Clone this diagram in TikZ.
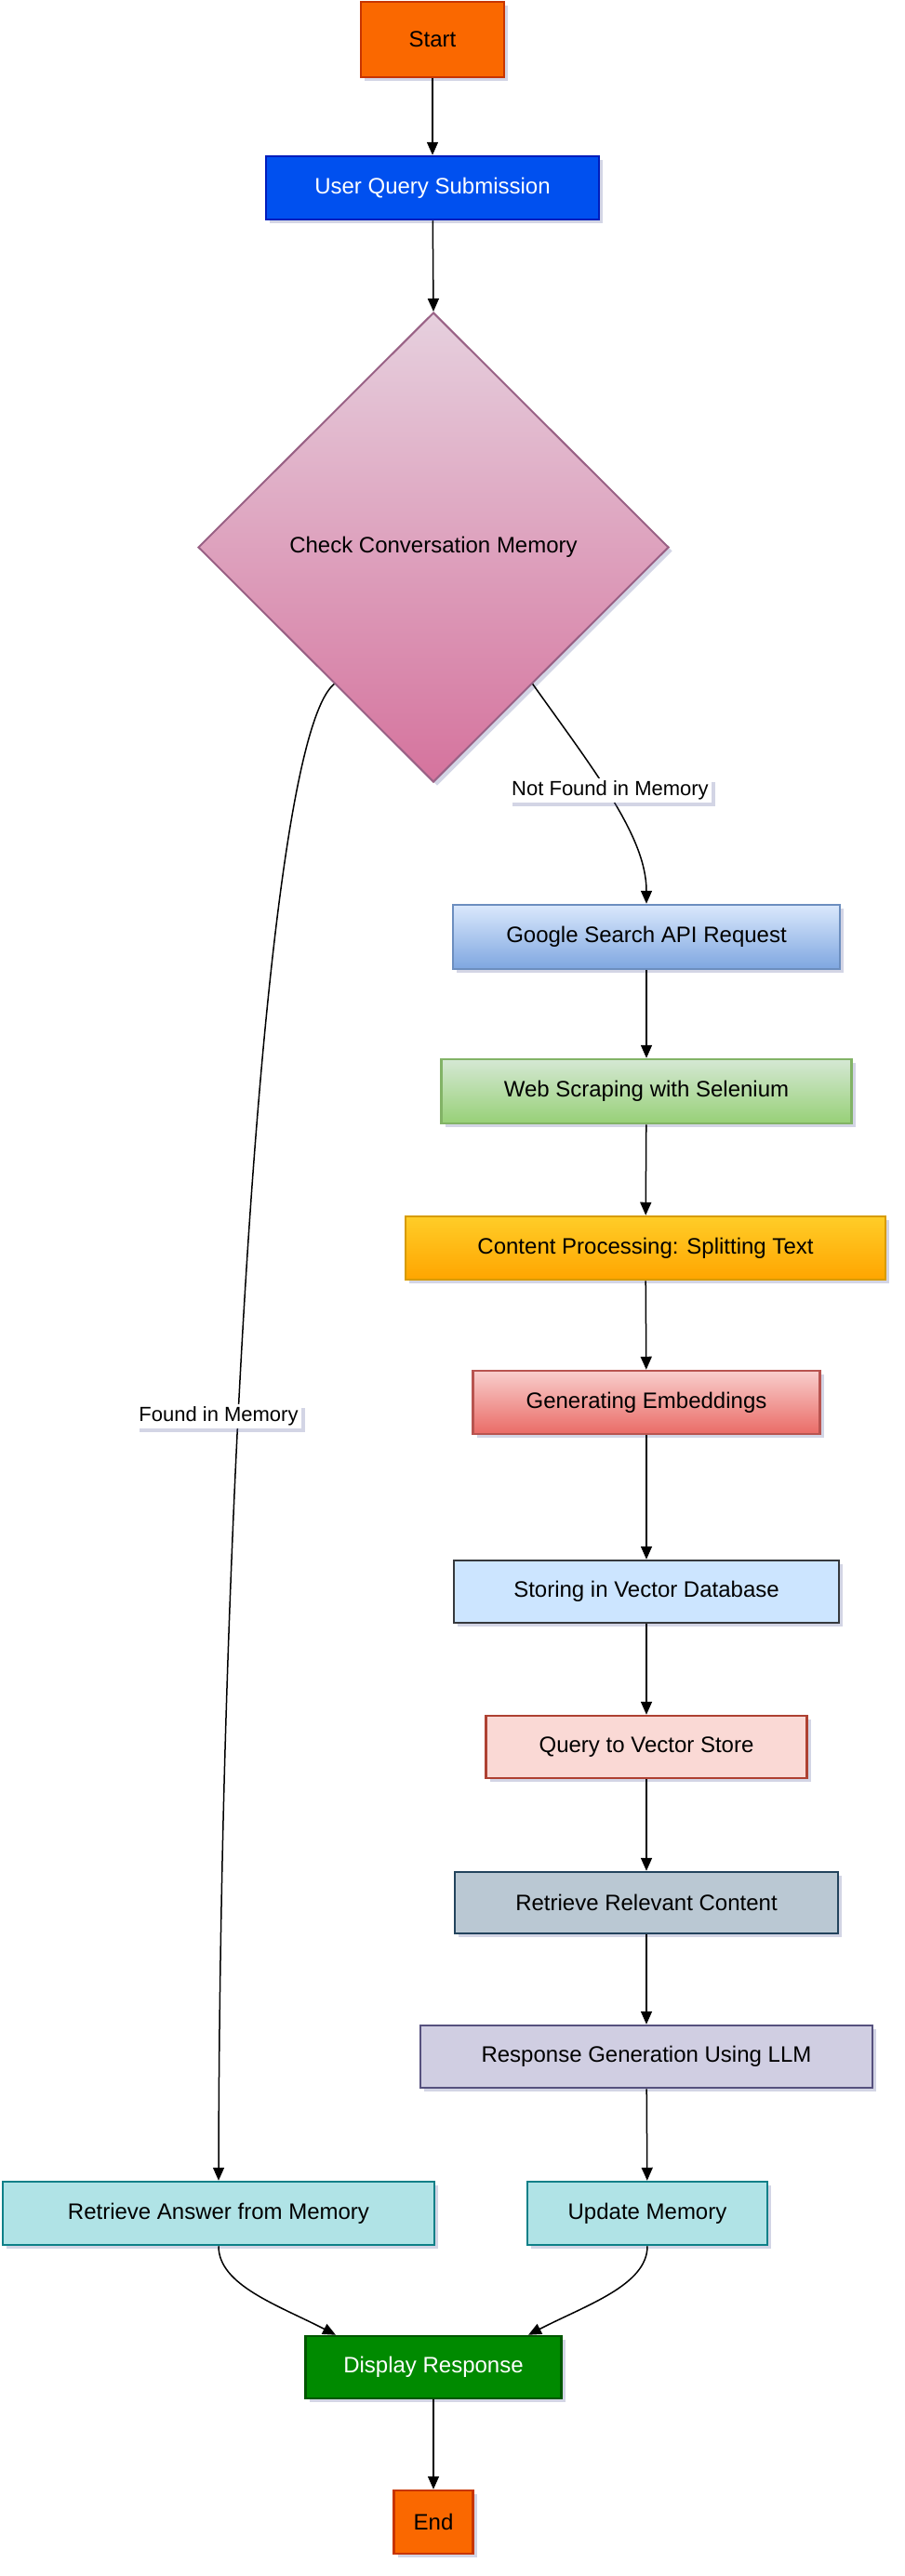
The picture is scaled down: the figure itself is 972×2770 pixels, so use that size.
\documentclass[tikz,border=0pt]{standalone}
\usepackage{fontspec}
\setmainfont{Liberation Sans}
\usetikzlibrary{shapes.geometric,arrows.meta,shadows,calc}
\definecolor{shadowc}{RGB}{110,115,170}
\definecolor{startfill}{HTML}{FA6800}
\definecolor{startdraw}{HTML}{C73500}
\definecolor{userfill}{HTML}{0050EF}
\definecolor{userdraw}{HTML}{001DBC}
\definecolor{checktop}{HTML}{E6D0DE}
\definecolor{checkbot}{HTML}{D5739D}
\definecolor{checkdraw}{HTML}{996185}
\definecolor{gtop}{HTML}{DAE8FC}
\definecolor{gbot}{HTML}{7EA6E0}
\definecolor{gdraw}{HTML}{6C8EBF}
\definecolor{wtop}{HTML}{D5E8D4}
\definecolor{wbot}{HTML}{97D077}
\definecolor{wdraw}{HTML}{82B366}
\definecolor{ctop}{HTML}{FFCD28}
\definecolor{cbot}{HTML}{FFA500}
\definecolor{cdraw}{HTML}{D79B00}
\definecolor{etop}{HTML}{F8CECC}
\definecolor{ebot}{HTML}{EA6B66}
\definecolor{edraw}{HTML}{B85450}
\definecolor{sfill}{HTML}{CCE5FF}
\definecolor{sdraw}{HTML}{36393D}
\definecolor{qfill}{HTML}{FAD9D5}
\definecolor{qdraw}{HTML}{AE4132}
\definecolor{rfill}{HTML}{BAC8D3}
\definecolor{rdraw}{HTML}{23445D}
\definecolor{lfill}{HTML}{D0CEE2}
\definecolor{ldraw}{HTML}{56517E}
\definecolor{mfill}{HTML}{B0E3E6}
\definecolor{mdraw}{HTML}{0E8088}
\definecolor{dfill}{HTML}{008A00}
\definecolor{ddraw}{HTML}{005700}
\tikzset{
  shad/.style={drop shadow={shadow xshift=4pt, shadow yshift=-4pt, opacity=0.3, fill=shadowc}},
  base/.style={rectangle, draw, line width=2.5pt, inner sep=0pt, text=black,
    font=\fontsize{24}{28}\selectfont, shad},
  wh/.style 2 args={minimum width=#1, minimum height=#2},
  conn/.style={line width=1.5pt, -{Triangle[length=14pt,width=12pt]}},
  lbl/.style={fill=white, inner sep=3pt, font=\fontsize{22}{26}\selectfont, shad}
}
\begin{document}
\begin{tikzpicture}[x=1pt,y=-1pt]
\useasboundingbox (0,0) rectangle (972,2770);
\node[base, fill=startfill, draw=startdraw, wh={154pt}{81pt}] (start) at (465,42.5) {Start};
\node[base, fill=userfill, draw=userdraw, text=white, wh={358pt}{68pt}] (user) at (465,202) {User Query Submission};
\node[diamond, aspect=1, draw=checkdraw, line width=2pt, top color=checktop, bottom color=checkbot,
  minimum width=506pt, minimum height=505pt, inner sep=0pt, text=black,
  font=\fontsize{24}{28}\selectfont, shad] (check) at (466,588.5) {Check Conversation Memory};
\node[base, top color=gtop, bottom color=gbot, draw=gdraw, wh={416pt}{69pt}] (google) at (695,1007.5) {Google Search API Request};
\node[base, top color=wtop, bottom color=wbot, draw=wdraw, wh={441pt}{69pt}] (web) at (695,1173.5) {Web Scraping with Selenium};
\node[base, top color=ctop, bottom color=cbot, draw=cdraw, wh={516pt}{68pt}] (content) at (694,1342) {Content Processing: Splitting Text};
\node[base, top color=etop, bottom color=ebot, draw=edraw, wh={373pt}{68pt}] (embed) at (695,1508) {Generating Embeddings};
\node[base, fill=sfill, draw=sdraw, wh={414pt}{67pt}] (store) at (695,1711.5) {Storing in Vector Database};
\node[base, fill=qfill, draw=qdraw, wh={345pt}{67pt}] (query) at (695,1878.5) {Query to Vector Store};
\node[base, fill=rfill, draw=rdraw, wh={412pt}{66pt}] (relcont) at (695,2046) {Retrieve Relevant Content};
\node[base, fill=lfill, draw=ldraw, wh={486pt}{67pt}] (respgen) at (695,2211.5) {Response Generation Using LLM};
\node[base, fill=mfill, draw=mdraw, wh={464pt}{68pt}] (retans) at (235,2380) {Retrieve Answer from Memory};
\node[base, fill=mfill, draw=mdraw, wh={258pt}{68pt}] (update) at (696,2380) {Update Memory};
\node[base, fill=dfill, draw=ddraw, text=white, wh={275pt}{67pt}] (display) at (466,2545.5) {Display Response};
\node[base, fill=startfill, draw=startdraw, wh={85pt}{68pt}] (endn) at (466,2712) {End};

\draw[conn] (start) -- (user);
\draw[conn] (user) -- (check.north);
\draw[conn] ($(check.east)!0.58!(check.south)$) .. controls (640,830) and (695,900) .. (google.north);
\draw[conn] ($(check.west)!0.58!(check.south)$) .. controls (280,800) and (236,1700) .. (retans.north);
\draw[conn] (google) -- (web);
\draw[conn] (web) -- (content);
\draw[conn] (content) -- (embed);
\draw[conn] (embed) -- (store);
\draw[conn] (store) -- (query);
\draw[conn] (query) -- (relcont);
\draw[conn] (relcont) -- (respgen);
\draw[conn] (respgen) -- (update);
\draw[conn] (retans.south) .. controls +(0,42) and +(-62,-32) .. ($(display.north)+(-105,0)$);
\draw[conn] (update.south) .. controls +(0,42) and +(62,-32) .. ($(display.north)+(102,0)$);
\draw[conn] (display) -- (endn);

\node[lbl] (lnf) at (656,850) {Not Found in Memory};
\node[lbl] (lf) at (235,1523) {Found in Memory};
\end{tikzpicture}
\end{document}
